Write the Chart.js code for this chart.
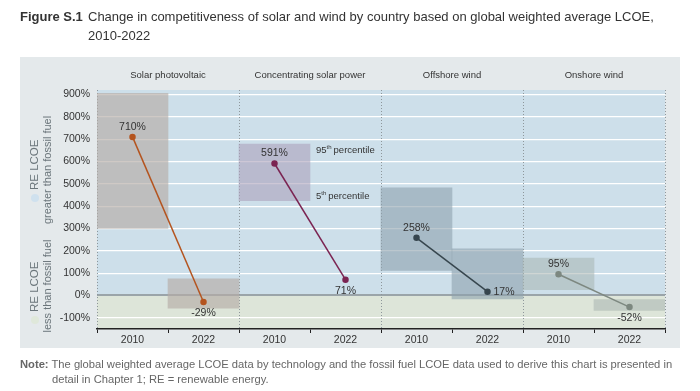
<!DOCTYPE html>
<html><head><meta charset="utf-8">
<script src="https://cdn.jsdelivr.net/npm/chart.js@4"></script>
<style>
html,body{margin:0;padding:0;background:#fff;}
#wrap{position:relative;width:700px;height:391px;overflow:hidden;font-family:"Liberation Sans",Arial,sans-serif;}
#c{position:absolute;left:0;top:0;}
.t{position:absolute;color:#333;font-size:13px;white-space:nowrap;}
.n{position:absolute;color:#666;font-size:11.2px;white-space:nowrap;}
</style></head><body>
<div id="wrap">
<canvas id="c" width="700" height="391" style="width:700px;height:391px"></canvas>
<div class="t" style="left:20px;top:9px;"><b>Figure S.1</b></div>
<div class="t" style="left:88px;top:9px;">Change in competitiveness of solar and wind by country based on global weighted average LCOE,</div>
<div class="t" style="left:88px;top:28px;">2010-2022</div>
<div class="n" style="left:20px;top:358px;"><b>Note:</b> The global weighted average LCOE data by technology and the fossil fuel LCOE data used to derive this chart is presented in</div>
<div class="n" style="left:52px;top:373px;">detail in Chapter 1; RE = renewable energy.</div>
</div>
<script>
// ---- data ----
const technologies = ['Solar photovoltaic','Concentrating solar power','Offshore wind','Onshore wind'];
const years = ['2010','2022','2010','2022','2010','2022','2010','2022'];
const weightedAvg = [710, -29, 591, 71, 258, 17, 95, -52];
const pct95 = [905, 75, 678, null, 482, 209, 168, -18];
const pct5  = [300, -57, 425, null, 112, -15, 26, -67];
const yTicks = [-100, 0, 100, 200, 300, 400, 500, 600, 700, 800, 900];

// ---- styles ----
const lineColors = ['#b4541f', '#7b2452', '#37464e', '#7d8880'];
const boxColors  = ['rgba(182,172,166,0.65)', 'rgba(172,162,186,0.6)', 'rgba(142,162,174,0.6)', 'rgba(168,180,176,0.55)'];
const labelPlace = ['above','below','above','below','above','right','above','below'];
const FONT = '"Liberation Sans", Arial, sans-serif';

const boxData = years.map((_, i) => pct95[i] == null ? null : [pct5[i], pct95[i]]);
const boxBg = years.map((_, i) => boxColors[Math.floor(i / 2)]);

const lineSets = technologies.map((t, k) => ({
  type: 'line',
  label: t,
  data: years.map((_, i) => Math.floor(i / 2) === k ? weightedAvg[i] : null),
  borderColor: lineColors[k],
  backgroundColor: lineColors[k],
  borderWidth: 1.5,
  pointRadius: 2.5,
  pointHoverRadius: 2.5,
  spanGaps: false,
  order: 0
}));

const deco = {
  id: 'deco',
  beforeDraw(chart) {
    const { ctx, chartArea: a, scales: { y } } = chart;
    ctx.save();
    ctx.fillStyle = '#e4e9eb';
    ctx.fillRect(20, 57, 660, 291);
    const y0 = y.getPixelForValue(0);
    ctx.fillStyle = '#cddfea';
    ctx.fillRect(a.left, a.top, a.right - a.left, y0 - a.top);
    ctx.fillStyle = '#dde5d9';
    ctx.fillRect(a.left, y0, a.right - a.left, a.bottom - y0);
    ctx.restore();
  },
  beforeDatasetsDraw(chart) {
    const { ctx, chartArea: a, scales: { x } } = chart;
    ctx.save();
    ctx.strokeStyle = '#8e979b';
    ctx.lineWidth = 1;
    ctx.setLineDash([1, 2]);
    for (let k = 0; k <= technologies.length; k++) {
      let px;
      if (k === 0) px = a.left;
      else if (k === technologies.length) px = a.right;
      else px = (x.getPixelForValue(2 * k - 1) + x.getPixelForValue(2 * k)) / 2;
      px = Math.round(px) + 0.5;
      ctx.beginPath(); ctx.moveTo(px, a.top); ctx.lineTo(px, a.bottom); ctx.stroke();
    }
    ctx.restore();
  },
  afterDraw(chart) {
    const { ctx, scales: { x, y } } = chart;
    ctx.save();
    // panel headers
    ctx.fillStyle = '#333';
    ctx.font = '9.5px ' + FONT;
    ctx.textAlign = 'center'; ctx.textBaseline = 'middle';
    technologies.forEach((t, k) => {
      const cx = (x.getPixelForValue(2 * k) + x.getPixelForValue(2 * k + 1)) / 2;
      ctx.fillText(t, cx, 75);
    });
    // value labels
    ctx.font = '10.5px ' + FONT;
    ctx.fillStyle = '#333';
    chart.data.datasets.forEach((ds, di) => {
      if (ds.type !== 'line') return;
      const meta = chart.getDatasetMeta(di);
      ds.data.forEach((v, i) => {
        if (v == null) return;
        const p = meta.data[i];
        const txt = v + '%';
        const pl = labelPlace[i];
        if (pl === 'above') { ctx.textAlign = 'center'; ctx.fillText(txt, p.x, p.y - 10); }
        else if (pl === 'below') { ctx.textAlign = 'center'; ctx.fillText(txt, p.x, p.y + 11); }
        else { ctx.textAlign = 'left'; ctx.fillText(txt, p.x + 6, p.y); }
      });
    });
    // percentile annotations (CSP 2010 box)
    const bi = 2;
    const bx = x.getPixelForValue(bi) + (x.getPixelForValue(1) - x.getPixelForValue(0)) / 2 + 6;
    const drawSup = (num, sup, rest, yy) => {
      ctx.textAlign = 'left'; ctx.textBaseline = 'middle';
      ctx.font = '9.5px ' + FONT;
      let xx = bx;
      ctx.fillText(num, xx, yy); xx += ctx.measureText(num).width;
      ctx.font = '6px ' + FONT;
      ctx.fillText(sup, xx, yy - 3); xx += ctx.measureText(sup).width + 2;
      ctx.font = '9.5px ' + FONT;
      ctx.fillText(rest, xx, yy);
    };
    drawSup('95', 'th', 'percentile', y.getPixelForValue(pct95[bi]) + 6);
    drawSup('5', 'th', 'percentile', y.getPixelForValue(pct5[bi]) - 4);
    // side labels
    const side = (line1, line2, circleY, textStartY, line2CY, circleFill) => {
      ctx.save();
      ctx.fillStyle = circleFill;
      ctx.beginPath(); ctx.arc(35, circleY, 4, 0, Math.PI * 2); ctx.fill();
      ctx.fillStyle = '#6b767b';
      ctx.translate(35, textStartY); ctx.rotate(-Math.PI / 2);
      ctx.font = '11.5px ' + FONT; ctx.textAlign = 'left'; ctx.textBaseline = 'middle';
      ctx.fillText(line1, 0, 0);
      ctx.restore();
      ctx.save();
      ctx.fillStyle = '#6b767b';
      ctx.translate(48, line2CY); ctx.rotate(-Math.PI / 2);
      ctx.font = '11px ' + FONT; ctx.textAlign = 'center'; ctx.textBaseline = 'middle';
      ctx.fillText(line2, 0, 0);
      ctx.restore();
    };
    side('RE LCOE', 'greater than fossil fuel', 198, 190, 170, '#cfe1ee');
    side('RE LCOE', 'less than fossil fuel', 320, 312, 286, '#dfe8da');
    ctx.restore();
  }
};

new Chart(document.getElementById('c'), {
  type: 'bar',
  data: {
    labels: years,
    datasets: [
      ...lineSets,
      {
        type: 'bar',
        label: 'range',
        data: boxData,
        backgroundColor: boxBg,
        borderWidth: 0,
        barPercentage: 1,
        categoryPercentage: 1,
        order: 1
      }
    ]
  },
  options: {
    responsive: false,
    animation: false,
    devicePixelRatio: 1,
    layout: { padding: { left: 20, right: 35, top: 90, bottom: 42 } },
    plugins: { legend: { display: false }, tooltip: { enabled: false } },
    scales: {
      x: {
        grid: { display: true, drawOnChartArea: false, drawTicks: true, tickLength: 4, color: '#222', offset: true },
        border: { display: true, color: '#222', width: 1.5 },
        ticks: { color: '#333', font: { family: FONT, size: 10.5 }, padding: 1, maxRotation: 0, autoSkip: false },
        afterFit(s) { s.height = 20; }
      },
      y: {
        min: -150, max: 920,
        afterBuildTicks(s) { s.ticks = yTicks.map(v => ({ value: v })); },
        grid: {
          drawTicks: false,
          color: c => (c.tick && c.tick.value === 0) ? '#9aa4a9' : '#ffffff',
          lineWidth: c => (c.tick && c.tick.value === 0) ? 2 : 1.2
        },
        border: { display: false },
        ticks: { color: '#333', font: { family: FONT, size: 10.5 }, padding: 7, callback: v => v + '%' },
        afterFit(s) { s.width = 77; }
      }
    }
  },
  plugins: [deco]
});
</script>
</body></html>
